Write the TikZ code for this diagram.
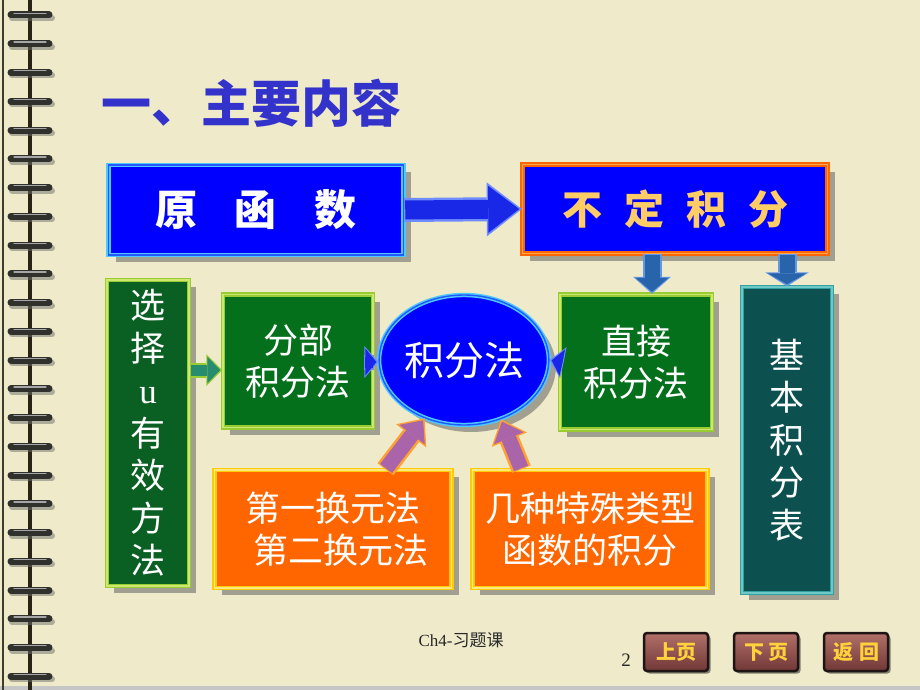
\documentclass[tikz,border=0pt]{standalone}
\usepackage{fontspec}
\setmainfont{Noto Sans CJK SC}
\newfontfamily\latinserif{Liberation Serif}
\usetikzlibrary{shapes.geometric,shadows,calc,arrows.meta}
\definecolor{bg}{RGB}{238,234,202}
\definecolor{shadowc}{RGB}{110,110,105}
\definecolor{ringc}{RGB}{48,48,44}
\definecolor{spinec}{RGB}{40,35,22}
\definecolor{edgec}{RGB}{60,60,50}
\definecolor{textc}{RGB}{40,40,40}
\definecolor{btnBorder}{RGB}{30,20,20}
\definecolor{titlec}{RGB}{51,51,204}
\definecolor{blueF}{RGB}{0,0,255}
\definecolor{cyanL}{RGB}{80,200,255}
\definecolor{cyanM}{RGB}{30,90,255}
\definecolor{orangeB}{RGB}{255,102,0}
\definecolor{orangeL}{RGB}{255,165,80}
\definecolor{goldT}{RGB}{255,204,102}
\definecolor{greenF}{RGB}{5,112,28}
\definecolor{greenD}{RGB}{10,95,35}
\definecolor{greenB}{RGB}{153,204,51}
\definecolor{greenBL}{RGB}{205,232,110}
\definecolor{tealF}{RGB}{12,80,80}
\definecolor{tealB}{RGB}{51,160,160}
\definecolor{tealBL}{RGB}{110,200,200}
\definecolor{orF}{RGB}{255,102,0}
\definecolor{yelB}{RGB}{255,204,0}
\definecolor{yelBL}{RGB}{255,232,130}
\definecolor{arrBlue}{RGB}{25,40,230}
\definecolor{arrBlueL}{RGB}{110,140,255}
\definecolor{arrDown}{RGB}{40,100,170}
\definecolor{arrDownL}{RGB}{100,150,230}
\definecolor{arrGreen}{RGB}{40,140,110}
\definecolor{arrPurp}{RGB}{170,100,170}
\definecolor{arrPurpL}{RGB}{255,160,50}
\definecolor{btnTop}{RGB}{178,112,105}
\definecolor{btnBot}{RGB}{112,55,55}
\definecolor{btnText}{RGB}{255,210,60}
\begin{document}
\begin{tikzpicture}[x=1pt,y=-1pt,
  shad/.style={drop shadow={shadow xshift=7pt,shadow yshift=-7pt,fill=shadowc,opacity=0.6}},
  basebox/.style={rectangle, inner sep=0pt, align=center, text=white, line width=1.5pt, double distance=1.4pt, shad},
  bluebox/.style={basebox, fill=blueF, draw=cyanL, double=cyanM},
  orbluebox/.style={basebox, fill=blueF, draw=orangeB, double=orangeL},
  greenbox/.style={basebox, fill=greenF, draw=greenB, double=greenBL},
  tealbox/.style={basebox, fill=tealF, draw=tealB, double=tealBL},
  orbox/.style={basebox, fill=orF, draw=yelB, double=yelBL},
  lbl/.style={font=\fontsize{35}{42.5}\selectfont},
  btn/.style={rectangle, rounded corners=3pt, minimum width=64pt, minimum height=38pt,
    draw=btnBorder, line width=2.5pt, top color=btnTop, bottom color=btnBot,
    text=btnText, font=\bfseries\fontsize{20}{20}\selectfont,
    drop shadow={shadow xshift=2.5pt,shadow yshift=-2.5pt,fill=black,opacity=0.45}}
]
\useasboundingbox (0,0) rectangle (920,690);
\fill[bg] (0,0) rectangle (920,690);
\fill[gray!45] (0,686) rectangle (920,690);
% binding
\draw[edgec, line width=1.5pt] (3,0) -- (3,690);
\draw[spinec, line width=4.5pt] (30,0) -- (30,690);
\foreach \i in {0,...,23}{
  \pgfmathsetmacro{\yy}{15+28.75*\i}
  \draw[shadowc, line width=6pt, line cap=round, opacity=0.5] (12,\yy+3) -- (52,\yy+3);
  \draw[ringc, line width=7pt, line cap=round] (11,\yy) -- (49,\yy);
  \draw[gray!70, line width=1.2pt, line cap=round] (14,\yy-1.8) -- (46,\yy-1.8);
}
% title
\node[text=titlec, font=\bfseries\fontsize{50}{50}\selectfont, anchor=west] (title) at (98,103) {一、主要内容};
% top boxes
\node[bluebox, minimum width=295pt, minimum height=90pt, font=\bfseries\fontsize{42}{42}\selectfont] (yhs) at (256,210) {原\hspace{38pt}函\hspace{38pt}数};
\node[orbluebox, minimum width=305pt, minimum height=89pt, text=goldT, font=\bfseries\fontsize{40}{40}\selectfont] (bdjf) at (675,209) {不\hspace{22pt}定\hspace{22pt}积\hspace{22pt}分};
% middle row
\node[greenbox, fill=greenD, minimum width=82pt, minimum height=306pt, lbl] (xz) at (148,433) {选\\择\\{\latinserif u}\\有\\效\\方\\法};
\node[greenbox, minimum width=150pt, minimum height=133pt, lbl] (fb) at (298,361) {分部\\积分法};
\node[ellipse, minimum width=142pt, minimum height=130pt, inner sep=0pt, fill=blueF, draw=cyanL, double=cyanM, line width=1.5pt, double distance=1.4pt, text=white, font=\fontsize{40}{40}\selectfont, shad] (jff) at (464,360) {积分法};
\node[greenbox, minimum width=152pt, minimum height=135pt, lbl] (zj) at (636,362) {直接\\积分法};
\node[tealbox, minimum width=90pt, minimum height=306pt, lbl] (jbb) at (787,440) {基\\本\\积\\分\\表};
% bottom row
\node[orbox, minimum width=237pt, minimum height=118pt, lbl] (hy) at (333,529) {第一换元法\\\hspace{16pt}第二换元法};
\node[orbox, minimum width=235pt, minimum height=118pt, lbl] (ts) at (590,529) {几种特殊类型\\函数的积分};
% arrows
\coordinate (a2e) at ($(zj.north)+(16,0)$);
% 1
\draw[arrBlueL, line width=24pt, -{Triangle[width=54pt,length=35pt,line width=0pt]}] (yhs.east) -- (bdjf.west);
\draw[arrBlue, line width=19pt, shorten >=2.5pt, shorten <=1pt, -{Triangle[width=47pt,length=31pt,line width=0pt]}] (yhs.east) -- (bdjf.west);
% 2
\draw[arrDownL, line width=19pt, -{Triangle[width=38pt,length=17pt,line width=0pt]}] (bdjf.south -| a2e) -- (a2e);
\draw[arrDown, line width=15pt, shorten >=2pt, shorten <=1pt, -{Triangle[width=33pt,length=14pt,line width=0pt]}] (bdjf.south -| a2e) -- (a2e);
% 3
\draw[arrDownL, line width=19pt, -{Triangle[width=44pt,length=14pt,line width=0pt]}] (bdjf.south -| jbb.north) -- (jbb.north);
\draw[arrDown, line width=15pt, shorten >=2pt, shorten <=1pt, -{Triangle[width=39pt,length=11pt,line width=0pt]}] (bdjf.south -| jbb.north) -- (jbb.north);
% 4
\draw[greenB, line width=15pt, -{Triangle[width=32pt,length=16pt,line width=0pt]}] (xz.east |- 0,370) -- (fb.west |- 0,370);
\draw[arrGreen, line width=11pt, shorten >=2pt, shorten <=1pt, -{Triangle[width=27pt,length=13pt,line width=0pt]}] (xz.east |- 0,370) -- (fb.west |- 0,370);
% 5
\draw[arrBlueL, line width=15pt, -{Triangle[width=32pt,length=14pt,line width=0pt]}] (fb.east |- 0,362) -- (jff.west |- 0,362);
\draw[arrBlue, line width=11pt, shorten >=2pt, shorten <=1pt, -{Triangle[width=27pt,length=11pt,line width=0pt]}] (fb.east |- 0,362) -- (jff.west |- 0,362);
% 6
\draw[arrBlueL, line width=15pt, -{Triangle[width=32pt,length=14pt,line width=0pt]}] (zj.west) -- (jff.east);
\draw[arrBlue, line width=11pt, shorten >=2pt, shorten <=1pt, -{Triangle[width=27pt,length=11pt,line width=0pt]}] (zj.west) -- (jff.east);
% 7,8
\coordinate (h7) at ($(hy.north west)!0.72!(hy.north east)$);
\coordinate (h8) at ($(ts.north west)!0.21!(ts.north east)$);
\draw[arrPurpL, line width=20pt, -{Triangle[width=38pt,length=22pt,line width=0pt]}] (h7) -- (jff.236);
\draw[arrPurp, line width=15pt, shorten >=2.5pt, shorten <=1pt, -{Triangle[width=32pt,length=18pt,line width=0pt]}] (h7) -- (jff.236);
\draw[arrPurpL, line width=20pt, -{Triangle[width=38pt,length=22pt,line width=0pt]}] (h8) -- (jff.302);
\draw[arrPurp, line width=15pt, shorten >=2.5pt, shorten <=1pt, -{Triangle[width=32pt,length=18pt,line width=0pt]}] (h8) -- (jff.302);
% footer
\node[text=textc, font=\fontsize{17}{17}\selectfont] (foot) at (461,640) {{\latinserif Ch4-}习题课};
\node[text=textc, font=\fontsize{19}{19}\selectfont] (pg) at (626,660) {\latinserif 2};
\node[btn] (b1) at (676,652) {上页};
\node[btn] (b2) at (766,652) {下\hspace{4pt}页};
\node[btn] (b3) at (856,652) {返\hspace{6pt}回};
\end{tikzpicture}
\end{document}
